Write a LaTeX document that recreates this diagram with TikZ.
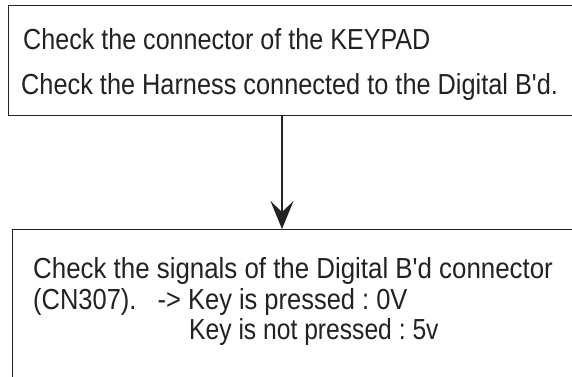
\documentclass[tikz,border=0pt]{standalone}
\usepackage{graphicx}
\usepackage{fontspec}
\newfontfamily\plainsans{Liberation Sans}
\usetikzlibrary{arrows.meta}
\definecolor{ink}{HTML}{222222}
\newcommand{\squeeze}[2]{\scalebox{#1}[1]{#2}}
\tikzset{
  boxframe/.style={draw=ink, line width=1.3pt, inner sep=0pt, anchor=north west},
  txt/.style={anchor=base west, inner sep=0pt, text=ink, font=\plainsans\frenchspacing\fontsize{29}{34}\selectfont},
  flow/.style={draw=ink, line width=1.4pt, -{Stealth[length=28pt, width=23pt, inset=11pt]}}
}
\begin{document}
\begin{tikzpicture}[x=1pt,y=1pt]
\useasboundingbox (0,0) rectangle (572,-376);
\fill[white] (0,0) rectangle (572,-376);
% boxes (right / bottom edges lie beyond the picture)
\node[boxframe, minimum width=600pt, minimum height=110.5pt] (top) at (8,-4.5) {};
\node[boxframe, minimum width=600pt, minimum height=200pt] (bot) at (12,-229) {};
% texts
\node[txt] (t1) at (23,-49) {\squeeze{0.866}{Check the connector of the KEYPAD}};
\node[txt] (t2) at (21,-94) {\squeeze{0.873}{Check the Harness connected to the Digital B'd.}};
\node[txt] (b1) at (33,-278) {\squeeze{0.892}{Check the signals of the Digital B'd connector}};
\node[txt] (b2) at (33,-309) {\squeeze{0.878}{(CN307).\ \ \ -> Key is pressed : 0V}};
\node[txt] (b3) at (189,-339) {\squeeze{0.85}{Key is not pressed : 5v}};
% connector
\coordinate (ax) at (282,0);
\draw[flow] (top.south -| ax) -- (bot.north -| ax);
\end{tikzpicture}
\end{document}
